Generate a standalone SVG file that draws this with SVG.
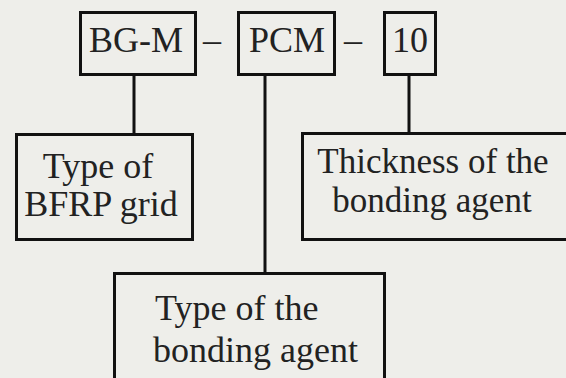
<svg xmlns="http://www.w3.org/2000/svg" width="566" height="378" viewBox="0 0 566 378">
<style>
.box{fill:none;stroke:#111;stroke-width:3}
.ln{stroke:#111;stroke-width:3;fill:none}
text{font-family:"Liberation Serif","Times New Roman",serif;font-size:36px;fill:#222}
.s{font-size:35px}
.m{text-anchor:middle}
</style>
<rect x="0" y="0" width="566" height="378" fill="#eeeeea"/>
<g id="connectors">
<line class="ln" x1="134" y1="76" x2="134" y2="133"/>
<line class="ln" x1="265" y1="76" x2="265" y2="273"/>
<line class="ln" x1="409" y1="76" x2="409" y2="132"/>
</g>
<g id="n-bgm">
<rect class="box" x="80.5" y="12.5" width="115" height="62"/>
<text class="m" x="136" y="52">BG-M</text>
</g>
<text class="m" x="212" y="52">–</text>
<g id="n-pcm">
<rect class="box" x="238.5" y="12.5" width="96" height="62"/>
<text class="m" x="287" y="52">PCM</text>
</g>
<text class="m" x="353" y="52">–</text>
<g id="n-10">
<rect class="box" x="384.5" y="12.5" width="51" height="62"/>
<text class="m" x="410" y="52">10</text>
</g>
<g id="n-grid">
<rect class="box" x="16.5" y="134.5" width="176" height="105"/>
<text class="m" x="98" y="178">Type of</text>
<text class="m" x="101" y="216">BFRP grid</text>
</g>
<g id="n-thick">
<rect class="box" x="302.5" y="133.5" width="268" height="106"/>
<text class="m s" x="433" y="173">Thickness of the</text>
<text class="m s" x="432" y="212">bonding agent</text>
</g>
<g id="n-type">
<rect class="box" x="114.5" y="273.5" width="270" height="120"/>
<text x="155" y="320">Type of the</text>
<text x="153" y="362">bonding agent</text>
</g>
</svg>
